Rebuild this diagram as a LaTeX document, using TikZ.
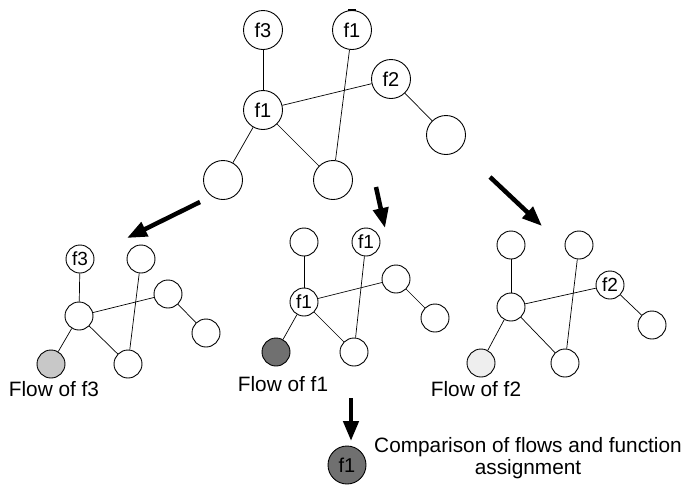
\documentclass[tikz,border=0pt]{standalone}
\usepackage{fontspec}
\setmainfont{Liberation Sans}
\usetikzlibrary{arrows.meta}
\definecolor{flowthree}{RGB}{200,200,200}
\definecolor{flowone}{RGB}{112,112,112}
\definecolor{flowtwo}{RGB}{238,238,238}

\begin{document}
\begin{tikzpicture}[
  x=1pt,y=-1pt,
  big/.style={circle,draw,line width=0.9pt,fill=white,minimum size=39pt,inner sep=0pt,font=\fontsize{20}{22}\selectfont},
  small/.style={circle,draw,line width=0.9pt,fill=white,minimum size=28pt,inner sep=0pt,font=\fontsize{19}{22}\selectfont},
  edge/.style={line width=0.7pt},
  arrow/.style={-{Triangle[length=20pt,width=15pt]},line width=4.5pt},
  caption/.style={font=\fontsize{20.8}{22}\selectfont,inner sep=0pt}
]
\useasboundingbox (0,0) rectangle (683,488);

% initial graph
\node[big] (tf3) at (263,30) {f3};
\node[big] (tf1) at (352,30) {f1};
\node[big] (tf2) at (391,79) {f2};
\node[big] (tc) at (263,110) {f1};
\node[big] (tr) at (446,135) {};
\node[big] (tbl) at (223,180) {};
\node[big] (tbm) at (333,180) {};
\draw[line width=2.5pt] ([xshift=-4pt]tf1.north) -- ([xshift=4pt]tf1.north);

\draw[edge] (tf3) -- (tc);
\draw[edge] (tc) -- (tf2);
\draw[edge] (tf2) -- (tr);
\draw[edge] (tc) -- (tbl);
\draw[edge] (tc) -- (tbm);
\draw[edge] (tf1) -- (tbm);

% flow of f3
\node[small] (af3) at (80,259) {f3};
\node[small] (atr) at (141,259) {};
\node[small] (ac) at (79,316) {};
\node[small] (amr) at (168,294) {};
\node[small] (afr) at (206,333) {};
\node[small,fill=flowthree] (abl) at (51,364) {};
\node[small] (abm) at (128,364) {};
\node[caption] (aflow) at (54,389) {Flow of f3};

\draw[edge] (af3) -- (ac);
\draw[edge] (ac) -- (amr);
\draw[edge] (amr) -- (afr);
\draw[edge] (ac) -- (abl);
\draw[edge] (ac) -- (abm);
\draw[edge] (atr) -- (abm);

% flow of f1
\node[small] (btl) at (304,242) {};
\node[small] (bf1) at (366,242) {f1};
\node[small] (bc) at (304,302) {f1};
\node[small] (bmr) at (396,279) {};
\node[small] (bfr) at (435,318) {};
\node[small,fill=flowone] (bbl) at (276,352) {};
\node[small] (bbm) at (354,352) {};
\node[caption] (bflow) at (283,384) {Flow of f1};

\draw[edge] (btl) -- (bc);
\draw[edge] (bc) -- (bmr);
\draw[edge] (bmr) -- (bfr);
\draw[edge] (bc) -- (bbl);
\draw[edge] (bc) -- (bbm);
\draw[edge] (bf1) -- (bbm);

% flow of f2
\node[small] (ctl) at (511,245) {};
\node[small] (ctr) at (579,245) {};
\node[small] (cf2) at (610,285) {f2};
\node[small] (cc) at (511,307) {};
\node[small] (cfr) at (652,325) {};
\node[small,fill=flowtwo] (cbl) at (481,363) {};
\node[small] (cbm) at (565,363) {};
\node[caption] (cflow) at (476,389) {Flow of f2};

\draw[edge] (ctl) -- (cc);
\draw[edge] (cc) -- (cf2);
\draw[edge] (cf2) -- (cfr);
\draw[edge] (cc) -- (cbl);
\draw[edge] (cc) -- (cbm);
\draw[edge] (ctr) -- (cbm);

% comparison
\node[big,minimum size=38pt,fill=flowone] (res) at (347,465) {f1};
\node[caption,align=center] (restext) at (528,458) {Comparison of flows and function\\assignment};

% arrows
\coordinate (a1s) at (200,202);
\coordinate (a1e) at (127,238);
\coordinate (a2s) at (376,187);
\coordinate (a2e) at (385,228);
\coordinate (a3s) at (490,177);
\coordinate (a3e) at (542,226);
\coordinate (a4s) at (351,398);
\coordinate (a4e) at (351,441);
\draw[arrow] (a1s) -- (a1e);
\draw[arrow] (a2s) -- (a2e);
\draw[arrow] (a3s) -- (a3e);
\draw[arrow] (a4s) -- (a4e);

\end{tikzpicture}
\end{document}
